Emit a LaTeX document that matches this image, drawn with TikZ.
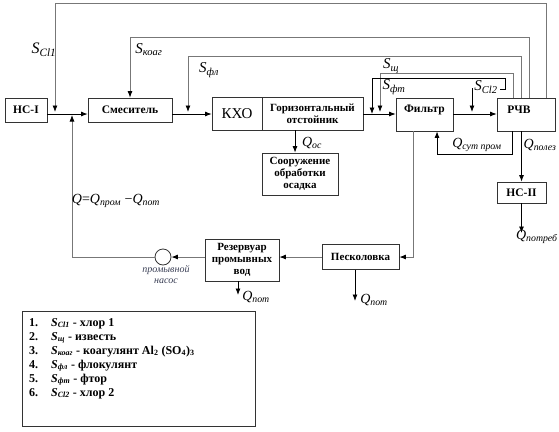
\documentclass[tikz,border=0pt]{standalone}
\usepackage{fontspec}
\setmainfont{Liberation Serif}
\usetikzlibrary{arrows.meta,calc}
\definecolor{linegray}{HTML}{777777}
\definecolor{boxc}{HTML}{333333}
\definecolor{pumptxt}{HTML}{3A3F55}
\newcommand\Sx[1]{\textit{S}\textsubscript{\textit{#1}}}
\newcommand\Qx[1]{\textit{Q}\textsubscript{\textit{#1}}}
\begin{document}
\begin{tikzpicture}[x=1pt,y=-1pt,
  box/.style={draw=boxc,line width=0.8pt,fill=white,inner sep=1pt,align=center,
    font=\bfseries\fontsize{11.5}{12.5}\selectfont},
  sbox/.style={box,font=\bfseries\fontsize{11}{12}\selectfont},
  btxt/.style={font=\bfseries\fontsize{11.5}{12.5}\selectfont,inner sep=0},
  g/.style={draw=linegray,line width=0.8pt},
  k/.style={draw=black,line width=0.8pt},
  tip/.style={-{Latex[length=6.5pt,width=5pt,color=black]}},
  slab/.style={font=\fontsize{15}{15}\selectfont,inner sep=0},
  qlab/.style={font=\fontsize{14}{14}\selectfont,inner sep=0},
]
\useasboundingbox (0,0) rectangle (559,431);
\coordinate (m) at (0,114);

% boxes
\node[box,minimum width=42,minimum height=24] (ns1) at (26,110) {НС-I};
\node[box,minimum width=84,minimum height=24] (mix) at (130,110) {Смеситель};
\node[box,minimum width=50,minimum height=33,font=\fontsize{15}{15}\selectfont] (kho) at (237,113.5) {КХО};
\node[sbox,minimum width=101,minimum height=33] (gor) at (312.5,113.5) {Горизонтальный\\отстойник};
\node[box,minimum width=57,minimum height=33] (fil) at (424.5,114.5) {};
\node[btxt] (filt) at (424.5,110) {Фильтр};
\node[box,minimum width=58,minimum height=33] (rchv) at (526,114.5) {};
\node[btxt] (rchvt) at (519,110) {РЧВ};
\node[box,minimum width=49,minimum height=21] (ns2) at (521.5,192.5) {НС-II};
\node[sbox,minimum width=76,minimum height=42] (soor) at (300,174) {Сооружение\\обработки\\осадка};
\node[sbox,minimum width=77,minimum height=25] (pesk) at (360.5,257) {Песколовка};
\node[sbox,minimum width=74,minimum height=42] (rez) at (242,260) {Резервуар\\промывных\\вод};
\node[draw=boxc,line width=0.8pt,circle,minimum size=16,inner sep=0] (pump) at (163,257) {};

% main flow
\draw[k,tip] (ns1.east|-m) -- (mix.west|-m);
\draw[k,tip] (mix.east|-m) -- (kho.west|-m);
\draw[k,tip] (gor.east|-m) -- (fil.west|-m);
\draw[k,tip] (fil.east|-m) -- (rchv.west|-m);

% top dosing lines
\coordinate (t1) at (546,3);
\coordinate (j1) at (55,112);
\draw[g,tip] (rchv.north -| t1) |- (j1 |- t1) -- (j1);
\coordinate (t2) at (529,37);
\draw[g,tip] (rchv.north -| t2) |- (mix.north |- t2) -- (mix.north);
\coordinate (t3) at (521,56);
\coordinate (j3) at (188,112);
\draw[g,tip] (rchv.north -| t3) |- (j3 |- t3) -- (j3);
\coordinate (t4) at (513,73);
\coordinate (j4) at (380,112);
\draw[g,tip] (rchv.north -| t4) |- (j4 |- t4) -- (j4);
\coordinate (t5a) at (500,89);
\coordinate (t5b) at (505,78);
\coordinate (j5) at (372,114);
\draw[k,tip] (t5a) -| (t5b) -| (j5);
\coordinate (t6) at (472,88);
\coordinate (j6) at (472,112);
\draw[k,tip] (t6) -- (j6);

% under filter / RChV
\coordinate (q1) at (512,154);
\coordinate (q2) at (437,154);
\draw[k,tip] (rchv.south -| q1) |- (q2) -- (fil.south -| q2);
\draw[k,tip] (rchv.south -| ns2.north) -- (ns2.north);
\coordinate (qp) at (521.5,233);
\draw[k,tip] (ns2.south) -- (qp);
\coordinate (qo) at (295,0);
\draw[k,tip] (gor.south -| qo) -- (soor.north -| qo);

% wash water loop
\coordinate (fw) at (413,0);
\draw[g,tip] (fil.south -| fw) |- (pesk.east);
\draw[g,tip] (pesk.west) -- (rez.east |- pesk.west);
\draw[g,tip] (rez.west |- pump) -- (pump.east);
\coordinate (j7) at (72,115);
\draw[g,tip] (pump.west) -| (j7);
\coordinate (qr) at (238,295);
\draw[k,tip] (rez.south -| qr) -- (qr);
\coordinate (qs) at (355,301);
\draw[k,tip] (pesk.south -| qs) -- (qs);

% labels
\node[slab,font=\fontsize{16}{16}\selectfont] (lcl1) at (44,50) {\Sx{Cl1}};
\node[slab] (lkoag) at (149,50) {\Sx{коаг}};
\node[slab] (lfl) at (209,70) {\Sx{фл}};
\node[slab] (lsh) at (391,66) {\Sx{щ}};
\node[slab] (lft) at (394,87) {\Sx{фт}};
\node[slab] (lcl2) at (486,87) {\Sx{Cl2}};
\node[qlab] (los) at (312,143) {\Qx{ос}};
\node[qlab] (lsut) at (477,145) {\Qx{сут пром}};
\node[qlab] (lpol) at (540,145) {\Qx{полез}};
\node[qlab] (lpotr) at (537,237) {\Qx{потреб}};
\node[qlab] (lq) at (116,201) {\textit{Q}=\Qx{пром} −\Qx{пот}};
\node[font=\itshape\fontsize{10}{11}\selectfont,text=pumptxt,align=center,inner sep=0] (lpump) at (166,274) {промывной\\насос};
\node[qlab] (lpot1) at (256,297) {\Qx{пот}};
\node[qlab] (lpot2) at (374,300) {\Qx{пот}};

% legend
\node[draw=boxc,line width=0.8pt,minimum width=233,minimum height=115,inner sep=0] (leg) at (138.5,368.5) {};
\node[anchor=north west,inner sep=0,font=\bfseries\fontsize{12}{14}\selectfont] (legt) at (29,316)
{\begin{tabular}{@{}l@{\hspace{13pt}}l@{}}
1.& \Sx{Cl1} - хлор 1\\
2.& \Sx{щ} - известь\\
3.& \Sx{коаг} - коагулянт Al\textsubscript{2} (SO\textsubscript{4})\textsubscript{3}\\
4.& \Sx{фл} - флокулянт\\
5.& \Sx{фт} - фтор\\
6.& \Sx{Cl2} - хлор 2
\end{tabular}};
\end{tikzpicture}
\end{document}
